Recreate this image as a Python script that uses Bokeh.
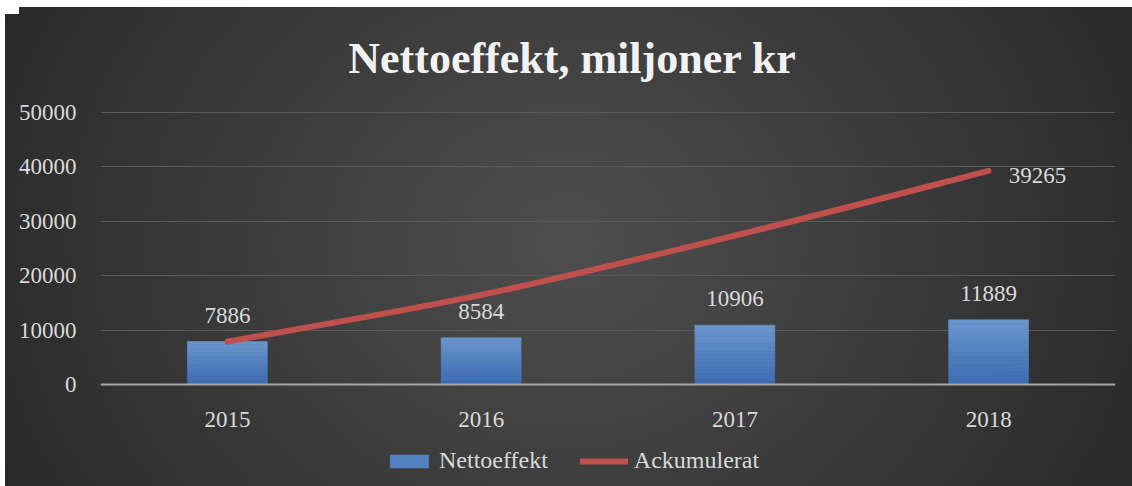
from bokeh.plotting import figure
from bokeh.models import (Range1d, FixedTicker, NumeralTickFormatter, ColumnDataSource,
                          LabelSet, Label, Legend, LegendItem, Span)
from bokeh.core.properties import value
from bokeh.embed import file_html
from bokeh.resources import INLINE

# ---- data ----
years = ["2015", "2016", "2017", "2018"]
nettoeffekt = [7886, 8584, 10906, 11889]
ackumulerat = [7886, 16470, 27376, 39265]
y_ticks = [0, 10000, 20000, 30000, 40000, 50000]
title_text = "Nettoeffekt, miljoner kr"

FONT = "Liberation Serif"
TXT = "#d9d9d9"

# ---- layout (pixels) ----
W, H = 1132, 486
LEFT, RIGHT = 100, 17
Y_TOP_PX, Y_ZERO_PX = 112, 384          # pixel rows of 50000 and 0
px_per_unit = (Y_ZERO_PX - Y_TOP_PX) / 50000
y_lo = -(H - Y_ZERO_PX) / px_per_unit
y_hi = 50000 + Y_TOP_PX / px_per_unit

xs = [i + 0.5 for i in range(len(years))]

p = figure(width=W, height=H, output_backend="svg", toolbar_location=None,
           x_range=Range1d(0, len(years)), y_range=Range1d(y_lo, y_hi),
           x_axis_location=None,
           min_border_left=LEFT, min_border_right=RIGHT, min_border_top=0,
           min_border_bottom=0)
p.background_fill_alpha = 0
p.border_fill_alpha = 0
p.outline_line_color = None
p.styles = {"background": (
    "linear-gradient(#fff,#fff) 0 0/19px 14px no-repeat, "
    "linear-gradient(#fff,#fff) 0 0/100% 7px no-repeat, "
    "linear-gradient(#fff,#fff) 0 0/5px 100% no-repeat, "
    "radial-gradient(ellipse 55% 110% at 50% 50%, #4e4e4e 0%, #2a2a2a 100%)")}

# ---- title ----
x_per_px = len(years) / (W - LEFT - RIGHT)
p.add_layout(Label(x=(572 - LEFT) * x_per_px, y=50000 + (Y_TOP_PX - 58) / px_per_unit,
                   text=title_text, text_align="center", text_baseline="alphabetic",
                   text_font=FONT, text_font_size="44px", text_font_style="bold",
                   text_color="#f2f2f2"))

# ---- grid & zero line ----
p.xgrid.visible = False
p.ygrid.ticker = FixedTicker(ticks=y_ticks)
p.ygrid.grid_line_color = "#5a5a5a"
p.ygrid.grid_line_width = 1

# ---- bars with vertical gradient ----
N = 16
top_c = (0x6b, 0x96, 0xcd)
bot_c = (0x3c, 0x6c, 0xb4)
bar_r = None
for k in range(N):
    fm = (k + 0.5) / N
    c = tuple(int(round(b + (t - b) * fm)) for b, t in zip(bot_c, top_c))
    col = "#%02x%02x%02x" % c
    r = p.vbar(x=xs, bottom=[v * k / N for v in nettoeffekt],
               top=[v * (k + 1) / N for v in nettoeffekt], width=0.315,
               fill_color=col, line_color=col, line_width=0.6)
    if k == N // 2:
        bar_r = r

p.add_layout(Span(location=0, dimension="width", line_color="#a6a6a6", line_width=2))

# ---- smoothed cumulative line ----
pts = list(zip(xs, ackumulerat))
bx0, by0, bx1, by1, cx0, cy0, cx1, cy1 = [], [], [], [], [], [], [], []
for i in range(len(pts) - 1):
    pm = pts[i - 1] if i > 0 else pts[i]
    p0, p1 = pts[i], pts[i + 1]
    p2 = pts[i + 2] if i + 2 < len(pts) else pts[i + 1]
    bx0.append(p0[0]); by0.append(p0[1]); bx1.append(p1[0]); by1.append(p1[1])
    cx0.append(p0[0] + (p1[0] - pm[0]) / 6); cy0.append(p0[1] + (p1[1] - pm[1]) / 6)
    cx1.append(p1[0] - (p2[0] - p0[0]) / 6); cy1.append(p1[1] - (p2[1] - p0[1]) / 6)
line_r = p.bezier(x0=bx0, y0=by0, x1=bx1, y1=by1, cx0=cx0, cy0=cy0, cx1=cx1, cy1=cy1,
                  line_color="#c0504d", line_width=6, line_cap="round")

# ---- data labels ----
bar_src = ColumnDataSource(dict(x=xs, y=nettoeffekt, t=[str(v) for v in nettoeffekt]))
p.add_layout(LabelSet(x="x", y="y", text="t", source=bar_src, text_align="center",
                      text_baseline="alphabetic", y_offset=19, text_font=value(FONT),
                      text_font_size="23px", text_color=TXT))
last_src = ColumnDataSource(dict(x=[xs[-1]], y=[ackumulerat[-1]], t=[str(ackumulerat[-1])]))
p.add_layout(LabelSet(x="x", y="y", text="t", source=last_src, text_align="left",
                      text_baseline="alphabetic", x_offset=20, y_offset=-12,
                      text_font=value(FONT), text_font_size="23px", text_color=TXT))

# ---- category labels (x axis) ----
cat_src = ColumnDataSource(dict(x=xs, y=[0] * len(xs), t=years))
p.add_layout(LabelSet(x="x", y="y", text="t", source=cat_src, text_align="center",
                      text_baseline="alphabetic", y_offset=-42, text_font=value(FONT),
                      text_font_size="23px", text_color=TXT))

# ---- y axis ----
p.yaxis.ticker = FixedTicker(ticks=y_ticks)
p.yaxis.formatter = NumeralTickFormatter(format="0")
p.yaxis.axis_line_color = None
p.yaxis.major_tick_line_color = None
p.yaxis.minor_tick_line_color = None
p.yaxis.major_label_standoff = 18
p.yaxis.major_label_text_font = FONT
p.yaxis.major_label_text_font_size = "23px"
p.yaxis.major_label_text_color = TXT

# ---- legend ----
legend = Legend(items=[LegendItem(label="Nettoeffekt", renderers=[bar_r]),
                       LegendItem(label="Ackumulerat", renderers=[line_r])],
                orientation="horizontal", location=(285, 12), glyph_width=48,
                glyph_height=16, label_standoff=6, spacing=32, padding=0, margin=0,
                border_line_color=None, background_fill_alpha=0,
                label_text_font=FONT, label_text_font_size="24px", label_text_color=TXT)
p.add_layout(legend)

open("out.html", "w").write(file_html(p, INLINE))
